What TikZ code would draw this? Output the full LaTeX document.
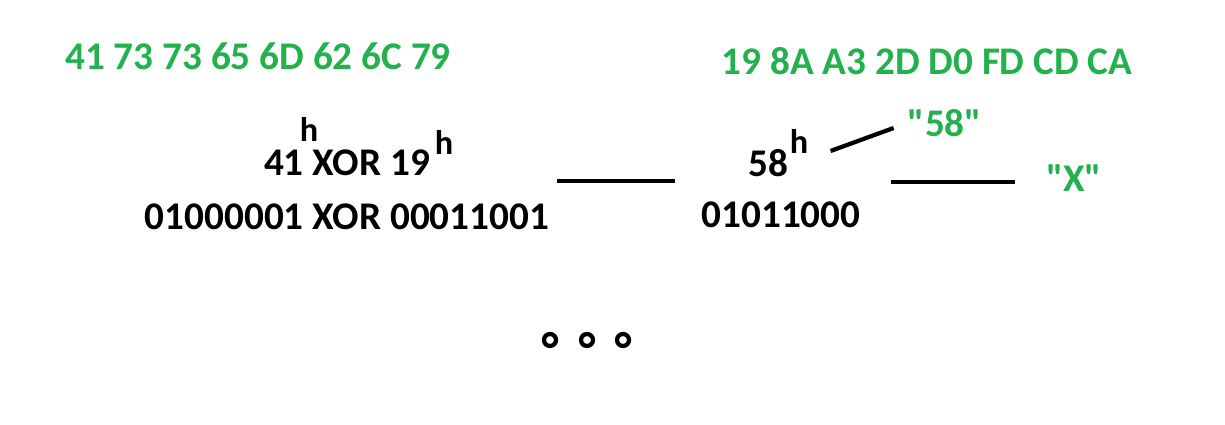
\documentclass[tikz,border=0pt]{standalone}
\usepackage{fontspec}
\setmainfont{Carlito}[Ligatures=TeXOff]
\definecolor{XGreen}{HTML}{22B14C}
\usepackage{tikz}
\usetikzlibrary{positioning,calc}

\begin{document}
\begin{tikzpicture}[x=0.02cm,y=-0.02cm,
    big/.style={inner sep=0pt,font=\fontsize{22.3}{26}\selectfont\bfseries},
    hex/.style={big,text=XGreen},
    sup/.style={inner sep=0pt,font=\fontsize{19.5}{22}\selectfont\bfseries},
    bar/.style={line width=2.4pt}]
    \useasboundingbox (0,0) rectangle (1225,425);
    % key and cipher bytes
    \node[hex] (plain) at (258,56) {41 73 73 65 6D 62 6C 79};
    \node[hex] (key) at (927,61) {19 8A A3 2D D0 FD CD CA};
    % xor of the first bytes
    \node[big] (xorhex) at (347,163) {41 XOR 19};
    \node[sup] (hA) at (309,129) {h};
    \node[sup] (hB) at (444,142) {h};
    \node[big] (xorbin) at (347,217) {01000001 XOR 00011001};
    % result
    \node[big] (reshex) at (768,163) {58};
    \node[sup] (hC) at (799,141) {h};
    \node[big] (resbin) at (781,215) {01011000};
    \node[hex] (quote) at (945,123) {"58"};
    \node[hex] (letter) at (1074,178) {"X"};
    % connectors
    \coordinate (barA) at (557,181);
    \coordinate (barB) at (675,181);
    \draw[bar] (barA) -- (barB);
    \draw[bar] ($(hC.east)+(22,10)$) -- ($(quote.west)+(-14,5)$);
    \coordinate (barC) at (891,182);
    \draw[bar] (barC) -- ($(letter.west)+(-31,4)$);
    % and so on
    \foreach \x in {550,587,623}{\draw[line width=2.4pt] (\x,340) circle (6);}
\end{tikzpicture}
\end{document}
